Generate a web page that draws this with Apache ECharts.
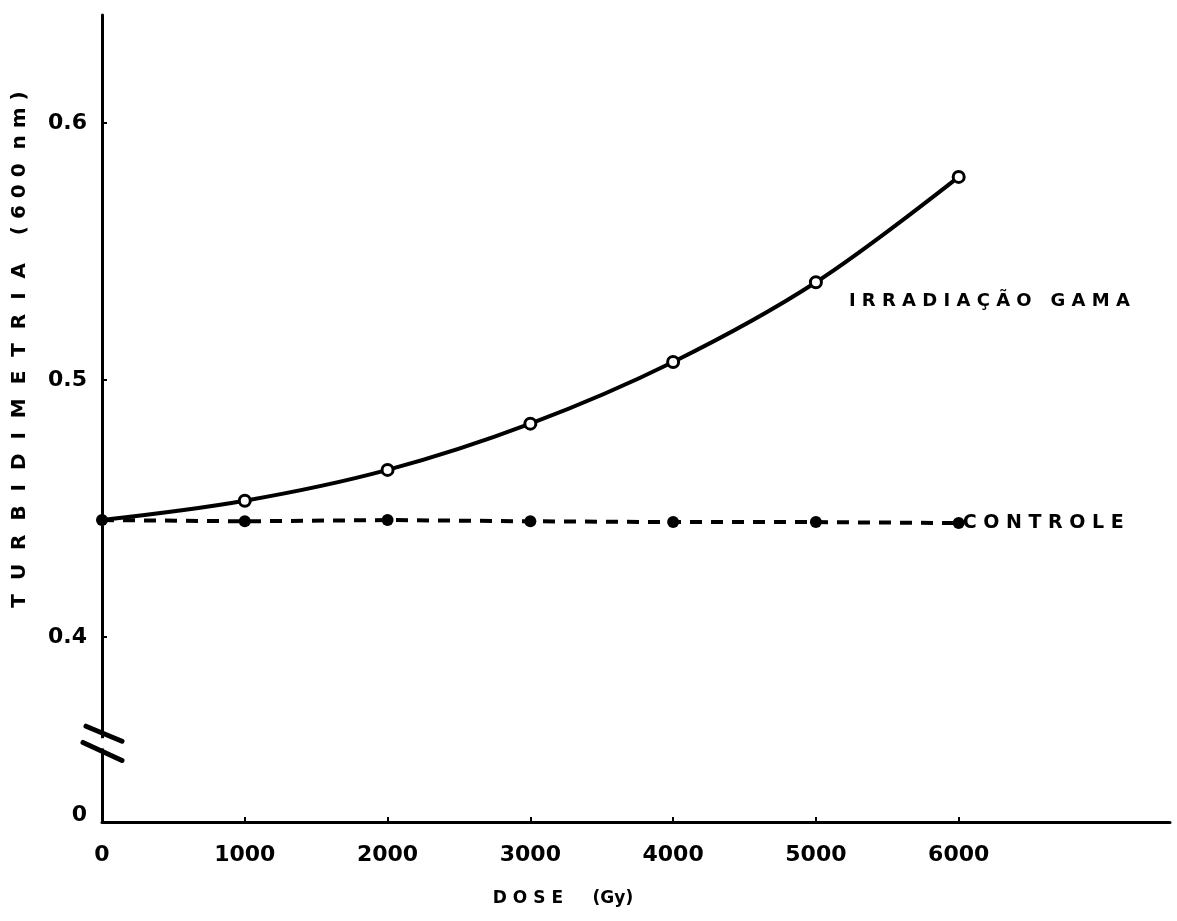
<!DOCTYPE html>
<html><head><meta charset="utf-8">
<script src="https://cdn.jsdelivr.net/npm/echarts@6/dist/echarts.min.js"></script>
<style>html,body{margin:0;padding:0;background:#fff}#c{width:1177px;height:921px}</style>
</head><body><div id="c"></div>
<script>
// ---- data ----
const doses = [0, 1000, 2000, 3000, 4000, 5000, 6000];
const gamaValues = [0.4455, 0.453, 0.465, 0.483, 0.507, 0.538, 0.579];
const controleValues = [0.4455, 0.445, 0.4455, 0.445, 0.4447, 0.4447, 0.4443];
const xTickLabels = [0, 1000, 2000, 3000, 4000, 5000, 6000];
const yTickLabels = [0.4, 0.5, 0.6];
const yZeroLabel = '0';
const gamaName = 'I R R A D I A Ç Ã O   G A M A';
const controleName = 'C O N T R O L E';
const xName = 'D O S E     (Gy)';
const yName = 'T  U  R  B  I  D  I  M  E  T  R  I  A    ( 6 0 0  n m )';

// axis extent (broken y axis: bottom of axis stands for "0")
const Y_MIN = 0.328, Y_MAX = 0.642, X_MIN = 0, X_MAX = 7480;
const Y_ZERO_POS = 0.3307;

const FONT = 'DejaVu Sans';
const chart = echarts.init(document.getElementById('c'), null, {renderer: 'canvas'});

const gamaData = doses.map((d, i) => {
  if (i === 0) return {value: [d, gamaValues[i]], symbol: 'none'};
  if (i === 5) return {
    value: [d, gamaValues[i]],
    label: {show: true, formatter: gamaName, position: 'right', distance: 26, offset: [0, 19],
      color: '#000', fontFamily: FONT, fontWeight: 'bold', fontSize: 18}
  };
  return [d, gamaValues[i]];
});
const controleData = doses.map((d, i) => [d, controleValues[i]]);

chart.setOption({
  backgroundColor: '#fff',
  animation: false,
  grid: {left: 102, right: 7, top: 15, bottom: 99, outerBoundsMode: 'none', containLabel: false},
  xAxis: {
    type: 'value', min: X_MIN, max: X_MAX,
    name: xName, nameLocation: 'middle', nameGap: 68,
    nameTextStyle: {color: '#000', fontFamily: FONT, fontWeight: 'bold', fontSize: 17, padding: [0, 146, 0, 0]},
    axisLine: {show: true, lineStyle: {color: '#000', width: 3}},
    axisTick: {show: true, inside: true, length: 5, lineStyle: {color: '#000', width: 2},
      customValues: xTickLabels.filter(v => v > 0)},
    axisLabel: {show: true, customValues: xTickLabels, margin: 22, color: '#000',
      fontFamily: FONT, fontWeight: 'bold', fontSize: 22, formatter: v => String(v)},
    splitLine: {show: false}
  },
  yAxis: {
    type: 'value', min: Y_MIN, max: Y_MAX,
    name: yName, nameLocation: 'middle', nameGap: 72, nameRotate: 90,
    nameTextStyle: {color: '#000', fontFamily: FONT, fontWeight: 'bold', fontSize: 20, padding: [0, 0, 0, 138]},
    axisLine: {show: true, lineStyle: {color: '#000', width: 3}},
    axisTick: {show: true, inside: true, length: 5, lineStyle: {color: '#000', width: 2},
      customValues: yTickLabels},
    axisLabel: {show: true, customValues: [Y_ZERO_POS].concat(yTickLabels), margin: 15, color: '#000',
      fontFamily: FONT, fontWeight: 'bold', fontSize: 22,
      formatter: v => (v < 0.39 ? yZeroLabel : v.toFixed(1))},
    splitLine: {show: false}
  },
  series: [
    {
      name: 'CONTROLE', type: 'line', data: controleData, z: 2,
      symbol: 'circle', symbolSize: 12,
      itemStyle: {color: '#000'},
      lineStyle: {color: '#000', width: 4, type: [12, 9]},
      endLabel: {show: true, formatter: controleName, distance: 4, color: '#000',
        fontFamily: FONT, fontWeight: 'bold', fontSize: 19}
    },
    {
      name: 'IRRADIAÇÃO GAMA', type: 'line', data: gamaData, z: 3,
      smooth: 0.35,
      symbol: 'circle', symbolSize: 11,
      itemStyle: {color: '#fff', borderColor: '#000', borderWidth: 3},
      lineStyle: {color: '#000', width: 4}
    }
  ]
});

// axis-break marks on the y axis
function drawBreak() {
  const top = chart.convertToPixel({gridIndex: 0}, [0, 0.3535]);
  const bot = chart.convertToPixel({gridIndex: 0}, [0, 0.3645]);
  const ax = top[0];
  const yA = bot[1], yB = top[1];
  chart.setOption({
    graphic: [
      {type: 'rect', shape: {x: ax - 3, y: yA + 10, width: 6, height: (yB - yA) - 18}, style: {fill: '#fff'}, z: 100},
      {type: 'line', shape: {x1: ax - 16, y1: yA - 2, x2: ax + 20, y2: yA + 13}, style: {stroke: '#000', lineWidth: 5, lineCap: 'round'}, z: 101},
      {type: 'line', shape: {x1: ax - 19, y1: yB - 14, x2: ax + 20, y2: yB + 4}, style: {stroke: '#000', lineWidth: 5, lineCap: 'round'}, z: 101}
    ]
  });
}
drawBreak();
</script>
</body></html>
